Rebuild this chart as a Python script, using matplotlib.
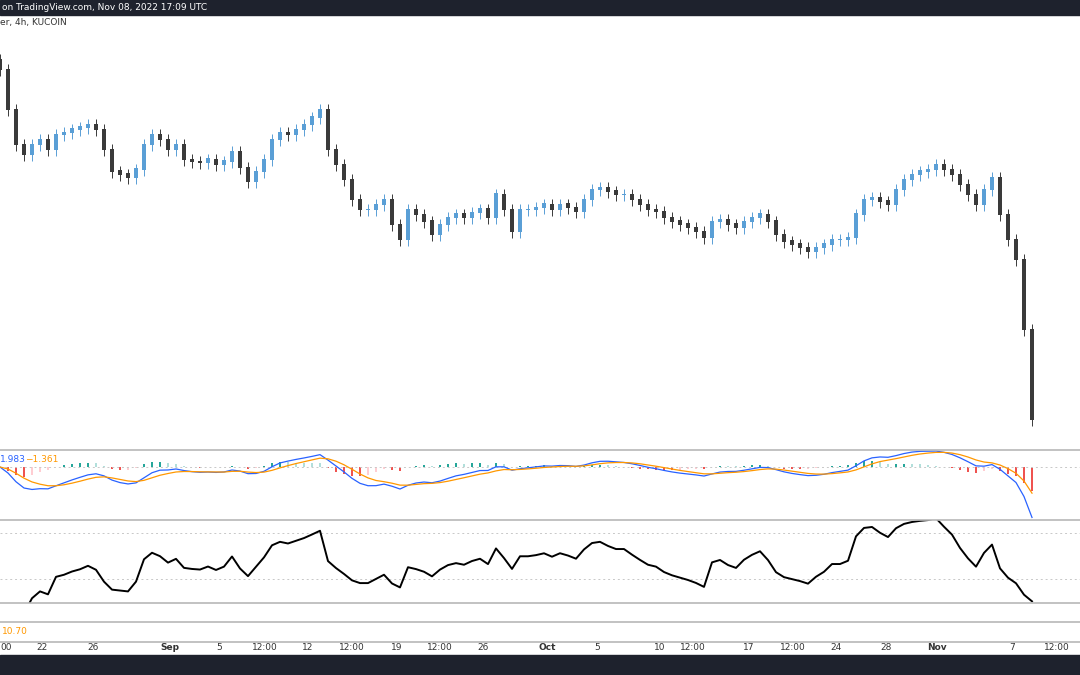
import numpy as np
import matplotlib.pyplot as plt

# closing prices, roughly one bar per 12h
closes = [38.0, 34.0, 30.5, 29.5, 30.5, 31.0, 30.0, 31.5, 31.7, 32.0, 32.2, 32.5, 32.0, 30.0,
          27.8, 27.5, 27.2, 28.0, 30.5, 31.5, 31.0, 30.0, 30.5, 29.0, 28.8, 28.7, 29.0, 28.5,
          28.8, 29.8, 28.2, 26.8, 27.8, 29.0, 31.0, 31.7, 31.5, 32.0, 32.5, 33.2, 34.0, 30.0,
          28.5, 27.0, 25.0, 24.0, 24.0, 24.5, 25.0, 22.5, 21.0, 24.0, 23.5, 22.8, 21.5, 22.5,
          23.2, 23.5, 23.2, 23.7, 24.0, 23.2, 25.5, 24.0, 21.8, 24.0, 24.0, 24.2, 24.5, 24.0,
          24.5, 24.2, 23.8, 25.0, 26.0, 26.2, 25.8, 25.5, 25.5, 25.0, 24.5, 24.0, 23.8, 23.2,
          22.8, 22.5, 22.2, 21.8, 21.2, 22.8, 23.0, 22.5, 22.2, 22.8, 23.2, 23.5, 22.8, 21.5,
          20.8, 20.5, 20.2, 19.8, 20.2, 20.5, 21.0, 21.0, 21.2, 23.5, 25.0, 25.2, 24.8, 24.5,
          26.0, 27.0, 27.5, 27.8, 28.0, 28.5, 28.0, 27.5, 26.5, 25.5, 24.5, 26.0, 27.2, 23.5,
          21.0, 19.0, 12.0, 3.0]

tick_labels = ["00", "22", "26", "Sep", "5", "12:00", "12", "12:00", "19", "12:00", "26",
               "Oct", "5", "10", "12:00", "17", "12:00", "24", "28", "Nov", "7", "12:00"]
tick_bars = [0.4, 5.2, 11.6, 21.2, 27.4, 33.1, 38.5, 44.0, 49.6, 55.0, 60.4,
             68.4, 74.6, 82.5, 86.6, 93.6, 99.1, 104.5, 110.7, 117.1, 126.5, 132.1]

BLUE = "#5a9fd6"
DOWN = "#3a3a3a"
GRID = "#c8c8c8"

c = np.array(closes)
o = np.concatenate([[c[0] + 1.0], c[:-1]])
n = len(c)
x = np.arange(n)
hi = np.maximum(o, c) + 0.6
lo = np.minimum(o, c) - 0.6

fig = plt.figure(figsize=(10.8, 6.75), dpi=100)
W, H = 1080, 675


def pane(top, bottom):
    ax = fig.add_axes([0, (H - bottom) / H, 1, (bottom - top) / H])
    ax.set_xlim(0, W / 8)
    ax.axis("off")
    return ax


# price pane
ax = pane(15, 450)
ax.set_ylim(0, 43.5)
up = c >= o
cols = np.where(up, BLUE, DOWN)
ax.vlines(x, lo, hi, colors=cols, lw=0.7)
ax.bar(x, np.abs(c - o) + 0.15, bottom=np.minimum(o, c), width=0.4, color=cols)

# MACD pane
def ema(v, span):
    a = 2 / (span + 1)
    out = [v[0]]
    for val in v[1:]:
        out.append(a * val + (1 - a) * out[-1])
    return np.array(out)

macd = ema(c, 6) - ema(c, 13)
sig = ema(macd, 5)
hist = macd - sig
ax2 = pane(450, 520)
mn = macd.min()
ax2.set_ylim(mn * 1.05, -mn * 1.05 * 17 / 53)
ax2.axhline(0, color=GRID, ls=(0, (2, 3)), lw=0.7)
hc = []
for i, h in enumerate(hist):
    prev = hist[i - 1] if i else 0
    if h >= 0:
        hc.append("#26a69a" if h >= prev else "#b2dfdb")
    else:
        hc.append("#ef5350" if h < prev else "#ffcdd2")
ax2.bar(x, hist, width=0.3, color=hc)
ax2.plot(x, macd, color="#2962ff", lw=0.9)
ax2.plot(x, sig, color="#ff9800", lw=0.9)

# RSI pane
d = np.diff(c, prepend=c[0])
g = ema(np.clip(d, 0, None), 18)
l = ema(np.clip(-d, 0, None), 18) + 1e-9
rsi = 100 - 100 / (1 + g / l)
ax3 = pane(520, 603)
ax3.set_ylim(9.1, 81.3)
for lv in (70, 30):
    ax3.axhline(lv, color=GRID, ls=(0, (2, 3)), lw=0.7)
ax3.plot(x, rsi, color="black", lw=1.4)

# separators
for yy in (450, 520, 603, 622, 642):
    fig.add_artist(plt.Line2D([0, 1], [(H - yy) / H] * 2, color="#b8b8b8", lw=1.2))

# dark bars
fig.add_artist(plt.Rectangle((0, (H - 15) / H), 1, 15 / H, color="#1e222d"))
fig.add_artist(plt.Rectangle((0, 0), 1, 20 / H, color="#1e222d"))
fig.text(2 / W, (H - 8) / H, "on TradingView.com, Nov 08, 2022 17:09 UTC", color="white",
         fontsize=6.5, va="center")
fig.text(0, (H - 23) / H, "er, 4h, KUCOIN", color="#333333", fontsize=6.5, va="center")
fig.text(0, (H - 459) / H, "1.983", color="#2962ff", fontsize=6.5, va="center")
fig.text(25 / W, (H - 459) / H, "\u22121.361", color="#ff9800", fontsize=6.5, va="center")
fig.text(2 / W, (H - 631) / H, "10.70", color="#ff9800", fontsize=6.5, va="center")

for lab, b in zip(tick_labels, tick_bars):
    bold = lab in ("Sep", "Oct", "Nov")
    first = b == tick_bars[0]
    fig.text(0 if first else b * 8 / W, (H - 647) / H, lab, ha="left" if first else "center",
             va="center", fontsize=6.5, color="#333333",
             fontweight="bold" if bold else "normal")

fig.savefig("out.png", dpi=100)
